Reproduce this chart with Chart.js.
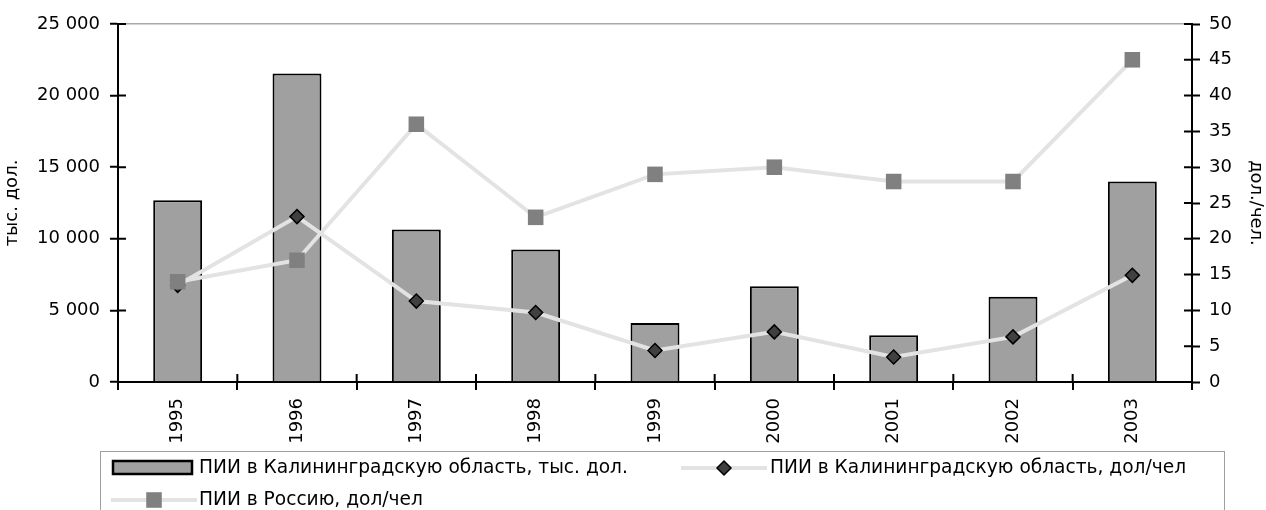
<!DOCTYPE html>
<html>
<head>
<meta charset="utf-8">
<script src="https://cdn.jsdelivr.net/npm/chart.js@4"></script>
<style>
  html, body { margin: 0; padding: 0; background: #fff; }
  #wrap { width: 1266px; height: 510px; }
</style>
</head>
<body>
<div id="wrap"><canvas id="chart" width="1266" height="510"></canvas></div>
<script>
// data
const years = ['1995', '1996', '1997', '1998', '1999', '2000', '2001', '2002', '2003'];
const kalTotal = [12700, 21550, 10650, 9250, 4120, 6680, 3260, 5960, 14000];   // тыс. дол.
const kalPerCap = [13.5, 23.1, 11.3, 9.7, 4.4, 7.0, 3.5, 6.3, 14.9];             // дол/чел
const rusPerCap = [14, 17, 36, 23, 29, 30, 28, 28, 45];                          // дол/чел
const leftTicks = [0, 5000, 10000, 15000, 20000, 25000];
const rightTicks = [0, 5, 10, 15, 20, 25, 30, 35, 40, 45, 50];

const FONT = "'DejaVu Sans', Verdana, sans-serif";
const FS = 18;
const fmt = v => String(v).replace(/\B(?=(\d{3})+(?!\d))/g, ' ');

// inner half of the tick marks (Excel style ticks cross the axis)
const crossTicks = {
    id: 'crossTicks',
    afterDraw(chart) {
        const ctx = chart.ctx;
        const a = chart.chartArea;
        ctx.save();
        ctx.strokeStyle = '#000';
        ctx.lineWidth = 2;
        ctx.beginPath();
        chart.scales.y.ticks.forEach((t, i) => {
            const y = chart.scales.y.getPixelForTick(i);
            ctx.moveTo(a.left, y); ctx.lineTo(a.left + 8, y);
        });
        chart.scales.y1.ticks.forEach((t, i) => {
            const y = chart.scales.y1.getPixelForTick(i);
            ctx.moveTo(a.right, y); ctx.lineTo(a.right - 8, y);
        });
        const step = (a.right - a.left) / years.length;
        for (let i = 0; i <= years.length; i++) {
            const x = a.left + step * i;
            ctx.moveTo(x, a.bottom); ctx.lineTo(x, a.bottom - 8);
        }
        ctx.stroke();
        ctx.restore();
    }
};

// legend box below the chart
const boxLegend = {
    id: 'boxLegend',
    afterDraw(chart) {
        const ctx = chart.ctx;
        const ds = chart.data.datasets;
        ctx.save();
        ctx.strokeStyle = '#a0a0a0';
        ctx.lineWidth = 1;
        ctx.strokeRect(100.5, 451.5, 1124, 80);
        ctx.font = '18.6px ' + FONT;
        ctx.textBaseline = 'middle';

        // bar item
        ctx.fillStyle = ds[0].backgroundColor;
        ctx.fillRect(113, 461, 79, 13);
        ctx.strokeStyle = '#000';
        ctx.lineWidth = 2.5;
        ctx.strokeRect(113, 461, 79, 13);
        ctx.fillStyle = '#000';
        ctx.fillText(ds[0].label, 199, 468);

        // kaliningrad per capita
        ctx.strokeStyle = ds[1].borderColor; ctx.lineWidth = ds[1].borderWidth;
        ctx.beginPath(); ctx.moveTo(681, 468); ctx.lineTo(767, 468); ctx.stroke();
        ctx.fillStyle = ds[1].pointBackgroundColor; ctx.strokeStyle = ds[1].pointBorderColor;
        ctx.lineWidth = ds[1].pointBorderWidth;
        Chart.helpers.drawPoint(ctx, { pointStyle: 'rectRot', radius: ds[1].pointRadius, borderWidth: ds[1].pointBorderWidth }, 724, 468);
        ctx.fillStyle = '#000';
        ctx.fillText(ds[1].label, 770, 468);

        // russia per capita
        ctx.strokeStyle = ds[2].borderColor; ctx.lineWidth = ds[2].borderWidth;
        ctx.beginPath(); ctx.moveTo(111, 500); ctx.lineTo(197, 500); ctx.stroke();
        ctx.fillStyle = ds[2].pointBackgroundColor; ctx.strokeStyle = ds[2].pointBackgroundColor;
        ctx.lineWidth = 0;
        Chart.helpers.drawPoint(ctx, { pointStyle: 'rect', radius: ds[2].pointRadius, borderWidth: 0 }, 154, 500);
        ctx.fillStyle = '#000';
        ctx.fillText(ds[2].label, 199, 500);
        ctx.restore();
    }
};

new Chart(document.getElementById('chart'), {
    type: 'bar',
    data: {
        labels: years,
        datasets: [
            {
                label: 'ПИИ в Калининградскую область, тыс. дол.',
                data: kalTotal,
                yAxisID: 'y',
                backgroundColor: '#a0a0a0',
                borderColor: '#000',
                borderWidth: 2,
                categoryPercentage: 1,
                barPercentage: 0.41,
                order: 3
            },
            {
                type: 'line',
                label: 'ПИИ в Калининградскую область, дол/чел',
                data: kalPerCap,
                yAxisID: 'y1',
                borderColor: '#e3e3e3',
                borderWidth: 4,
                pointStyle: 'rectRot',
                pointRadius: 7,
                pointBackgroundColor: '#404040',
                pointBorderColor: '#000',
                pointBorderWidth: 1.5,
                tension: 0,
                order: 2
            },
            {
                type: 'line',
                label: 'ПИИ в Россию, дол/чел',
                data: rusPerCap,
                yAxisID: 'y1',
                borderColor: '#e3e3e3',
                borderWidth: 4,
                pointStyle: 'rect',
                pointRadius: 11,
                pointBackgroundColor: '#808080',
                pointBorderColor: '#808080',
                pointBorderWidth: 0,
                tension: 0,
                order: 1
            }
        ]
    },
    options: {
        responsive: false,
        animation: false,
        layout: { padding: { top: 24, bottom: 60, left: 0, right: 0 } },
        plugins: { legend: { display: false }, tooltip: { enabled: false } },
        scales: {
            x: {
                offset: true,
                afterFit: s => { s.height = 68; },
                grid: { offset: true, drawOnChartArea: false, color: '#000', tickColor: '#000', tickLength: 8, lineWidth: 2 },
                border: { color: '#000', width: 2 },
                ticks: { maxRotation: 90, minRotation: 90, padding: 8, color: '#000', font: { family: FONT, size: FS } }
            },
            y: {
                position: 'left',
                min: 0, max: 25000,
                afterFit: s => { s.width = 118; },
                afterBuildTicks: s => { s.ticks = leftTicks.map(v => ({ value: v })); },
                grid: {
                    color: c => c.tick && c.tick.value === 25000 ? '#a8a8a8' : 'rgba(0,0,0,0)',
                    lineWidth: 1.5,
                    tickColor: '#000', tickLength: 8, tickWidth: 2
                },
                border: { color: '#000', width: 2 },
                title: { display: true, text: 'тыс. дол.', color: '#000', font: { family: FONT, size: FS }, padding: { top: 2, bottom: 0 } },
                ticks: { callback: v => fmt(v), padding: 10, color: '#000', font: { family: FONT, size: FS } }
            },
            y1: {
                position: 'right',
                min: 0, max: 50,
                afterFit: s => { s.width = 74; },
                afterBuildTicks: s => { s.ticks = rightTicks.map(v => ({ value: v })); },
                grid: { drawOnChartArea: false, tickColor: '#000', tickLength: 8, tickWidth: 2 },
                border: { color: '#000', width: 2 },
                title: { display: true, text: 'дол./чел.', color: '#000', font: { family: FONT, size: FS }, padding: { top: 0, bottom: 6 } },
                ticks: { padding: 9, color: '#000', font: { family: FONT, size: FS } }
            }
        }
    },
    plugins: [crossTicks, boxLegend]
});
</script>
</body>
</html>
